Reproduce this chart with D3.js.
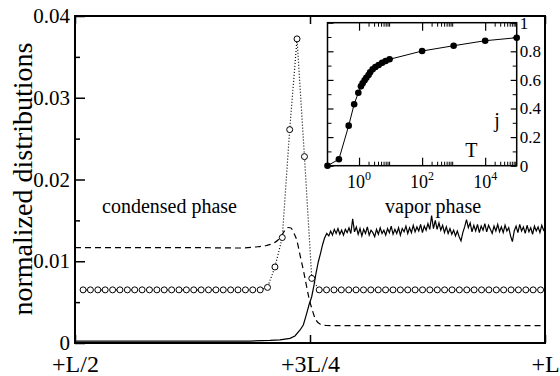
<!DOCTYPE html>
<html>
<head>
<meta charset="utf-8">
<script src="https://cdn.jsdelivr.net/npm/d3@7"></script>
<style>
  body { margin: 0; background: #fff; }
  svg { display: block; }
</style>
</head>
<body>
<svg id="chart" width="560" height="376"></svg>
<script>
const FONT = "Liberation Serif";

// --- main panel data (x in units of L) ---
const xTicks = [0.5, 0.75, 1.0];
const xTickLabels = ["+L/2", "+3L/4", "+L"];
const yTicks = [0, 0.01, 0.02, 0.03, 0.04];
const yMinorTicks = [0.005, 0.015, 0.025, 0.035];

// solid line: flat part and the rise
const solidX = [0.5, 0.6862, 0.7074, 0.7181, 0.7287, 0.7340, 0.7394, 0.7429, 0.7465, 0.7489,
  0.7518, 0.7543, 0.7564, 0.7588, 0.7612, 0.7633, 0.7654, 0.7678];
const solidY = [0.00022, 0.00024, 0.00031, 0.00039, 0.00057, 0.00086, 0.00159, 0.0022, 0.00363, 0.00465,
  0.00566, 0.0071, 0.00853, 0.00991, 0.01097, 0.01199, 0.01281, 0.0134];

// solid line: noisy vapor plateau, one value per bin of L/512
const vaporStart = 0.7700;
const vaporBin = 1 / 512;
const vaporY = [
  0.0131, 0.0137, 0.0132, 0.0139, 0.0134, 0.0140, 0.0133, 0.0138, 0.0132, 0.0139,
  0.0135, 0.0141, 0.0134, 0.0152, 0.0136, 0.0142, 0.0133, 0.0140, 0.0131, 0.0139,
  0.0134, 0.0142, 0.0132, 0.0138, 0.0135, 0.0130, 0.0139, 0.0133, 0.0141, 0.0134,
  0.0138, 0.0132, 0.0140, 0.0135, 0.0143, 0.0133, 0.0139, 0.0134, 0.0141, 0.0132,
  0.0140, 0.0136, 0.0143, 0.0134, 0.0141, 0.0135, 0.0144, 0.0136, 0.0142, 0.0137,
  0.0145, 0.0135, 0.0143, 0.0138, 0.0146, 0.0139, 0.0156, 0.0140, 0.0150, 0.0139,
  0.0147, 0.0138, 0.0144, 0.0135, 0.0142, 0.0134, 0.0140, 0.0133, 0.0138, 0.0131,
  0.0137, 0.0130, 0.0125, 0.0135, 0.0142, 0.0151, 0.0141, 0.0147, 0.0136, 0.0144,
  0.0137, 0.0145, 0.0135, 0.0143, 0.0138, 0.0146, 0.0136, 0.0144, 0.0139, 0.0134,
  0.0143, 0.0137, 0.0145, 0.0136, 0.0142, 0.0135, 0.0144, 0.0137, 0.0141, 0.0131,
  0.0124, 0.0137, 0.0143, 0.0135, 0.0145, 0.0137, 0.0142, 0.0134, 0.0144, 0.0136,
  0.0141, 0.0133, 0.0143, 0.0137, 0.0142, 0.0135, 0.0144, 0.0138, 0.0141
];

// dashed line
const dashX = [0.5, 0.6330, 0.6755, 0.6915, 0.7039, 0.7110, 0.7160, 0.7199, 0.7234, 0.7269,
  0.7298, 0.7322, 0.7359, 0.7394, 0.7429, 0.7465, 0.7489, 0.7518, 0.7553, 0.7606,
  0.7678, 0.7819, 1.0];
const dashY = [0.01166, 0.01166, 0.01162, 0.01174, 0.01193, 0.0122, 0.0126, 0.01315, 0.01382, 0.01413,
  0.01407, 0.01358, 0.0126, 0.01076, 0.00893, 0.00685, 0.0055, 0.00428, 0.00306, 0.00232,
  0.00214, 0.00212, 0.00212];

// open circles (dotted)
const circX = [0.5086, 0.5164, 0.5243, 0.5321, 0.5400, 0.5478, 0.5557, 0.5635, 0.5714, 0.5792,
  0.5871, 0.5949, 0.6028, 0.6106, 0.6185, 0.6263, 0.6342, 0.6420, 0.6499, 0.6577,
  0.6656, 0.6734, 0.6813, 0.6891, 0.6970, 0.7048, 0.7127, 0.7205, 0.7284, 0.7362,
  0.7441, 0.7519, 0.7598, 0.7676, 0.7755, 0.7833, 0.7912, 0.7990, 0.8069, 0.8147,
  0.8226, 0.8304, 0.8383, 0.8461, 0.8540, 0.8618, 0.8697, 0.8775, 0.8854, 0.8932,
  0.9011, 0.9089, 0.9168, 0.9246, 0.9325, 0.9403, 0.9482, 0.9560, 0.9639, 0.9717,
  0.9796, 0.9874, 0.9953];
const circY = [0.0065, 0.0065, 0.0065, 0.0065, 0.0065, 0.0065, 0.0065, 0.0065, 0.0065, 0.0065,
  0.0065, 0.0065, 0.0065, 0.0065, 0.0065, 0.0065, 0.0065, 0.0065, 0.0065, 0.0065,
  0.0065, 0.0065, 0.0065, 0.0065, 0.0065, 0.0068, 0.0093, 0.0129, 0.0261, 0.0372,
  0.0228, 0.0079, 0.0065, 0.0065, 0.0065, 0.0065, 0.0065, 0.0065, 0.0065, 0.0065,
  0.0065, 0.0065, 0.0065, 0.0065, 0.0065, 0.0065, 0.0065, 0.0065, 0.0065, 0.0065,
  0.0065, 0.0065, 0.0065, 0.0065, 0.0065, 0.0065, 0.0065, 0.0065, 0.0065, 0.0065,
  0.0065, 0.0065, 0.0065];

// --- inset data ---
const insetT = [0.1, 0.23, 0.47, 0.7, 0.95, 1.15, 1.3, 1.5, 1.7, 2.0, 2.25, 2.7, 3.3, 4.2, 5.4, 7.0, 9.3,
  100, 1000, 10000, 100000];
const insetJ = [0, 0.045, 0.28, 0.43, 0.51, 0.555, 0.576, 0.597, 0.615, 0.634, 0.653, 0.674, 0.69, 0.704, 0.72, 0.732, 0.744,
  0.802, 0.839, 0.874, 0.895];
const insetXMajor = [1, 100, 10000];
const insetXExp = ["0", "2", "4"];
const insetYMajor = [0, 0.2, 0.4, 0.6, 0.8, 1];
const insetYLabels = ["0", "0.2", "0.4", "0.6", "0.8", "1"];
const insetYMinor = [0.1, 0.3, 0.5, 0.7, 0.9];

const svg = d3.select("#chart");

// --- Main scales ---
const x = d3.scaleLinear().domain([0.5, 1]).range([75, 545]);
const y = d3.scaleLinear().domain([0, 0.04]).range([343, 16]);

svg.append("defs").append("clipPath").attr("id", "plotclip")
  .append("rect").attr("x", 75).attr("y", 16).attr("width", 470).attr("height", 327);

const styleAxis = (g, w) => {
  g.attr("font-family", FONT);
  g.select(".domain").remove();
  g.selectAll(".tick line").attr("stroke", "#000").attr("stroke-width", w);
  g.selectAll("text").attr("fill", "#000").attr("font-family", FONT);
};

// --- Axes ---
svg.append("g").attr("transform", "translate(75,0)")
  .call(d3.axisLeft(y).tickValues(yTicks).tickSize(-10).tickPadding(5)
    .tickFormat(d => d === 0 ? "0" : d3.format(".2f")(d)))
  .call(g => styleAxis(g, 1.5))
  .selectAll("text").attr("font-size", 21);

svg.append("g").attr("transform", "translate(75,0)")
  .call(d3.axisLeft(y).tickValues(yMinorTicks).tickSize(-5).tickFormat(""))
  .call(g => styleAxis(g, 1.5));

svg.append("g").attr("transform", "translate(0,343)")
  .call(d3.axisBottom(x).tickValues(xTicks).tickSize(-8).tickPadding(12)
    .tickFormat((d, i) => xTickLabels[i]))
  .call(g => styleAxis(g, 1.5))
  .selectAll("text").attr("font-size", 24);

svg.append("g").attr("transform", "translate(0,16)")
  .call(d3.axisTop(x).tickValues(xTicks).tickSize(-8).tickFormat(""))
  .call(g => styleAxis(g, 1.5));

// y axis title
svg.append("text")
  .attr("transform", "translate(32,179) rotate(-90)")
  .attr("text-anchor", "middle")
  .attr("font-family", FONT)
  .attr("font-size", 28)
  .text("normalized distributions");

// --- Curves ---
const plot = svg.append("g").attr("clip-path", "url(#plotclip)");
const line = d3.line().x(d => x(d[0])).y(d => y(d[1]));

const solidPts = solidX.map((v, i) => [v, solidY[i]])
  .concat(vaporY.map((v, i) => [vaporStart + i * vaporBin, v]));
plot.append("path").datum(solidPts)
  .attr("d", line)
  .attr("fill", "none").attr("stroke", "#000").attr("stroke-width", 1.2);

plot.append("path").datum(dashX.map((v, i) => [v, dashY[i]]))
  .attr("d", d3.line().x(d => x(d[0])).y(d => y(d[1])).curve(d3.curveMonotoneX))
  .attr("fill", "none").attr("stroke", "#000").attr("stroke-width", 1.2)
  .attr("stroke-dasharray", "6,4");

const circPts = circX.map((v, i) => [v, circY[i]]);
plot.append("path").datum(circPts)
  .attr("d", line)
  .attr("fill", "none").attr("stroke", "#000").attr("stroke-width", 1.2)
  .attr("stroke-dasharray", "1,2");

plot.selectAll(".opencirc").data(circPts).enter()
  .append("circle").attr("class", "opencirc")
  .attr("cx", d => x(d[0])).attr("cy", d => y(d[1])).attr("r", 3)
  .attr("fill", "#fff").attr("stroke", "#000").attr("stroke-width", 1);

// annotations
svg.append("text").attr("x", 102).attr("y", 213).attr("font-family", FONT)
  .attr("font-size", 20).text("condensed phase");
svg.append("text").attr("x", 385).attr("y", 213).attr("font-family", FONT)
  .attr("font-size", 20).text("vapor phase");

// main frame
svg.append("rect").attr("x", 75).attr("y", 16).attr("width", 470).attr("height", 327)
  .attr("fill", "none").attr("stroke", "#000").attr("stroke-width", 2);

// --- Inset ---
const xi = d3.scaleLog().domain([0.1, 1e5]).range([327.5, 516.7]);
const yi = d3.scaleLinear().domain([0, 1]).range([165.7, 22.7]);
const insetXMinor = insetXMajor.flatMap(m => [2, 3, 4, 5, 6, 7, 8, 9].map(k => k * m));

const inset = svg.append("g");
inset.append("rect").attr("x", 327.5).attr("y", 22.7).attr("width", 189.2).attr("height", 143)
  .attr("fill", "#fff");

inset.append("g").attr("transform", "translate(0,165.7)")
  .call(d3.axisBottom(xi).tickValues(insetXMajor).tickSize(-8).tickFormat(""))
  .call(g => styleAxis(g, 1.2));
inset.append("g").attr("transform", "translate(0,165.7)")
  .call(d3.axisBottom(xi).tickValues(insetXMinor).tickSize(-4).tickFormat(""))
  .call(g => styleAxis(g, 1));
inset.append("g").attr("transform", "translate(0,22.7)")
  .call(d3.axisTop(xi).tickValues(insetXMajor).tickSize(-8).tickFormat(""))
  .call(g => styleAxis(g, 1.2));
inset.append("g").attr("transform", "translate(0,22.7)")
  .call(d3.axisTop(xi).tickValues(insetXMinor).tickSize(-4).tickFormat(""))
  .call(g => styleAxis(g, 1));

inset.append("g").attr("transform", "translate(327.5,0)")
  .call(d3.axisLeft(yi).tickValues(insetYMajor).tickSize(-6).tickFormat(""))
  .call(g => styleAxis(g, 1.2));
inset.append("g").attr("transform", "translate(327.5,0)")
  .call(d3.axisLeft(yi).tickValues(insetYMinor).tickSize(-4).tickFormat(""))
  .call(g => styleAxis(g, 1));
inset.append("g").attr("transform", "translate(516.7,0)")
  .call(d3.axisRight(yi).tickValues(insetYMajor).tickSize(-6).tickPadding(3)
    .tickFormat((d, i) => insetYLabels[i]))
  .call(g => styleAxis(g, 1.2))
  .selectAll("text").attr("font-size", 17);
inset.append("g").attr("transform", "translate(516.7,0)")
  .call(d3.axisRight(yi).tickValues(insetYMinor).tickSize(-4).tickFormat(""))
  .call(g => styleAxis(g, 1));

// inset x labels with superscripts
insetXMajor.forEach((v, i) => {
  const t = inset.append("text").attr("x", xi(v)).attr("y", 188)
    .attr("text-anchor", "middle").attr("font-family", FONT).attr("font-size", 18);
  t.append("tspan").text("10");
  t.append("tspan").attr("dy", -8).attr("font-size", 12).text(insetXExp[i]);
});

inset.append("text").attr("x", 471.3).attr("y", 156.7).attr("text-anchor", "middle")
  .attr("font-family", FONT).attr("font-size", 20).text("T");
inset.append("text").attr("x", 497).attr("y", 127).attr("text-anchor", "middle")
  .attr("font-family", FONT).attr("font-size", 20).text("j");

const insetPts = insetT.map((t, i) => [t, insetJ[i]]);
inset.append("path").datum(insetPts)
  .attr("d", d3.line().x(d => xi(d[0])).y(d => yi(d[1])))
  .attr("fill", "none").attr("stroke", "#000").attr("stroke-width", 1);
inset.selectAll(".dot").data(insetPts).enter()
  .append("circle").attr("class", "dot")
  .attr("cx", d => xi(d[0])).attr("cy", d => yi(d[1])).attr("r", 3.3)
  .attr("fill", "#000");

inset.append("rect").attr("x", 327.5).attr("y", 22.7).attr("width", 189.2).attr("height", 143)
  .attr("fill", "none").attr("stroke", "#000").attr("stroke-width", 1.5);
</script>
</body>
</html>
